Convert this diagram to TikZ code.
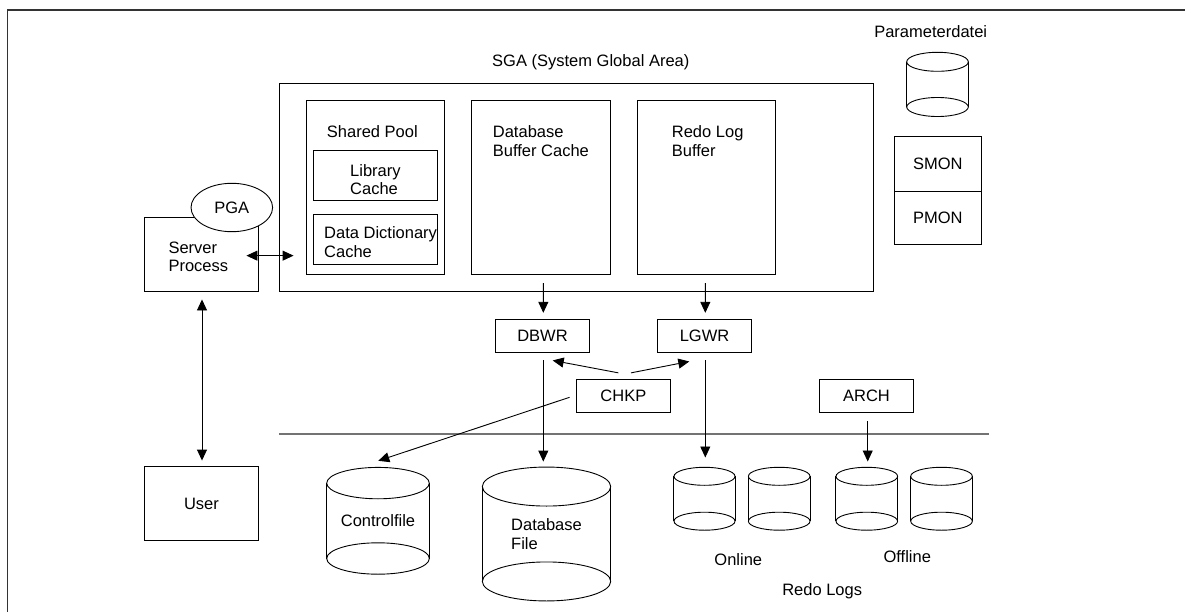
\documentclass[tikz,border=0pt]{standalone}
\usepackage{fontspec}
\setmainfont{Liberation Sans}
\usetikzlibrary{arrows.meta,calc,shapes.geometric}

% cylinder: name, cx, cy, x radius, y radius, body height, text
\newcommand\cylnode[7]{%
  \node[inner sep=0pt, minimum width=2*#4, minimum height=#6+2*#5, align=left] (#1) at (#2,#3) {#7};
  \draw[thinline] ($(#1.north)+(0,#5)$) ellipse [x radius=#4, y radius=#5];
  \draw[thinline] ($(#1.south)-(0,#5)$) ellipse [x radius=#4, y radius=#5];
  \draw[thinline] ($(#1.north west)+(0,#5)$) -- ($(#1.south west)-(0,#5)$);
  \draw[thinline] ($(#1.north east)+(0,#5)$) -- ($(#1.south east)-(0,#5)$);
}

\begin{document}
\begin{tikzpicture}[x=1pt,y=-1pt,
  every node/.style={font=\fontsize{16.5}{18.8}\selectfont},
  thinline/.style={line width=0.9pt},
  box/.style args={#1/#2}{draw, thinline, inner sep=0pt, minimum width=#1, minimum height=#2},
  txt/.style={inner sep=0pt, align=left, anchor=north west},
  ctext/.style={inner sep=0pt, anchor=base},
  arr/.style={thinline, -{Triangle[length=11pt,width=10pt]}},
  darr/.style={thinline, {Triangle[length=11pt,width=10pt]}-{Triangle[length=11pt,width=10pt]}},
]
\useasboundingbox (0,0) rectangle (1185,612);

% frame
\draw[line width=1.6pt, black!80] (7.3,612) -- (7.3,10) -- (1185,10);

% SGA
\node[ctext] (sgalabel) at (590.8,67) {SGA (System Global Area)};
\node[box=594.3/207.7] (sga) at (576.15,187.15) {};
\node[box=138/174.3] (pool) at (375.3,187.15) {};
\node[inner sep=0pt, anchor=base west] (pooltxt) at (326.7,137.7) {Shared Pool};
\node[box=124.4/50] (lib) at (375.5,175) {};
\node[txt] (libtxt) at (350,164) {Library\\Cache};
\node[box=124.4/50] (dict) at (375.5,239.3) {};
\node[txt] (dicttxt) at (324,226.7) {Data Dictionary\\Cache};
\node[box=138.3/174.3] (dbbuf) at (540.85,187.15) {};
\node[txt] (dbbuftxt) at (492.7,125.7) {Database\\Buffer Cache};
\node[box=138.7/174.3] (redo) at (706.35,187.15) {};
\node[txt] (redotxt) at (671.7,125.7) {Redo Log\\Buffer};

% server process and user
\node[box=114.4/73.3] (srv) at (201.5,254.35) {};
\node[txt] (srvtxt) at (168.3,241.3) {Server\\Process};
\node[draw, thinline, fill=white, ellipse, inner sep=0pt, minimum width=81.6, minimum height=48.4] (pga) at (231.8,207.5) {PGA};
\node[box=114.4/74] (user) at (201.5,503.7) {User};

% parameter file and monitors
\node[ctext] (partxt) at (930.7,37.7) {Parameterdatei};
\cylnode{par}{937.5}{84.4}{30.8}{9.5}{44.8}{}
\node[box=87.7/54.3] (smon) at (937.85,163.85) {SMON};
\node[box=87.7/53.3] (pmon) at (937.85,217.65) {PMON};

% background processes
\node[box=94.4/33.3] (dbwr) at (542.5,335.65) {DBWR};
\node[box=94.4/33.3] (lgwr) at (704.5,335.65) {LGWR};
\node[box=94.7/33.4] (chkp) at (623.35,396) {CHKP};
\node[box=94.4/33.4] (arch) at (866.5,396) {ARCH};

% disk boundary
\draw[line width=1.6pt, black!55] (279,434) -- (989,434);

% files
\cylnode{ctrl}{378}{520.8}{51.3}{15.7}{75}{Controlfile}
\cylnode{dbf}{546.5}{534}{64.2}{19.5}{94.5}{Database\\File}
\cylnode{on1}{704.5}{498.75}{30.5}{9}{44.5}{}
\cylnode{on2}{779.2}{498.75}{30.8}{9}{44.5}{}
\cylnode{off1}{866.8}{498.75}{30.8}{9}{44.5}{}
\cylnode{off2}{941.5}{498.75}{30.8}{9}{44.5}{}
\node[ctext] (online) at (738.3,565.3) {Online};
\node[ctext] (offline) at (907.3,562.7) {Offline};
\node[ctext] (redologs) at (822.2,595) {Redo Logs};

% connectors
\draw[darr] ($(srv.east)+(-12.7,1.3)$) -- ($(pool.west |- srv.east)+(-12.3,1.3)$);
\draw[darr] ($(srv.south)+(0.5,8)$) -- ($(user.north)+(0.5,-5.7)$);
\draw[arr] ($(dbbuf.south)+(2.5,8.4)$) -- ($(dbwr.north)+(0.8,-5.7)$);
\draw[arr] ($(redo.south)+(-1,8.4)$) -- ($(lgwr.north)+(0.8,-5.7)$);
\draw[arr] ($(dbwr.south)+(0.8,7.7)$) -- ($(dbf.north)+(-3.2,-5.5)$);
\draw[arr] ($(lgwr.south)+(0.8,7.7)$) -- ($(on1.north)+(0.8,-9.8)$);
\draw[arr] ($(arch.south)+(1.2,8)$) -- ($(off1.north)+(0.9,-5.8)$);
\draw[arr] ($(chkp.north)+(-5,-6)$) -- ($(dbwr.south)+(10.2,7.7)$);
\draw[arr] ($(chkp.north)+(7.7,-6)$) -- ($(lgwr.south)+(-15.2,8.7)$);
\draw[arr] ($(chkp.west)+(-6,1.3)$) -- ($(ctrl.north)+(0.3,-6.6)$);
\end{tikzpicture}
\end{document}
